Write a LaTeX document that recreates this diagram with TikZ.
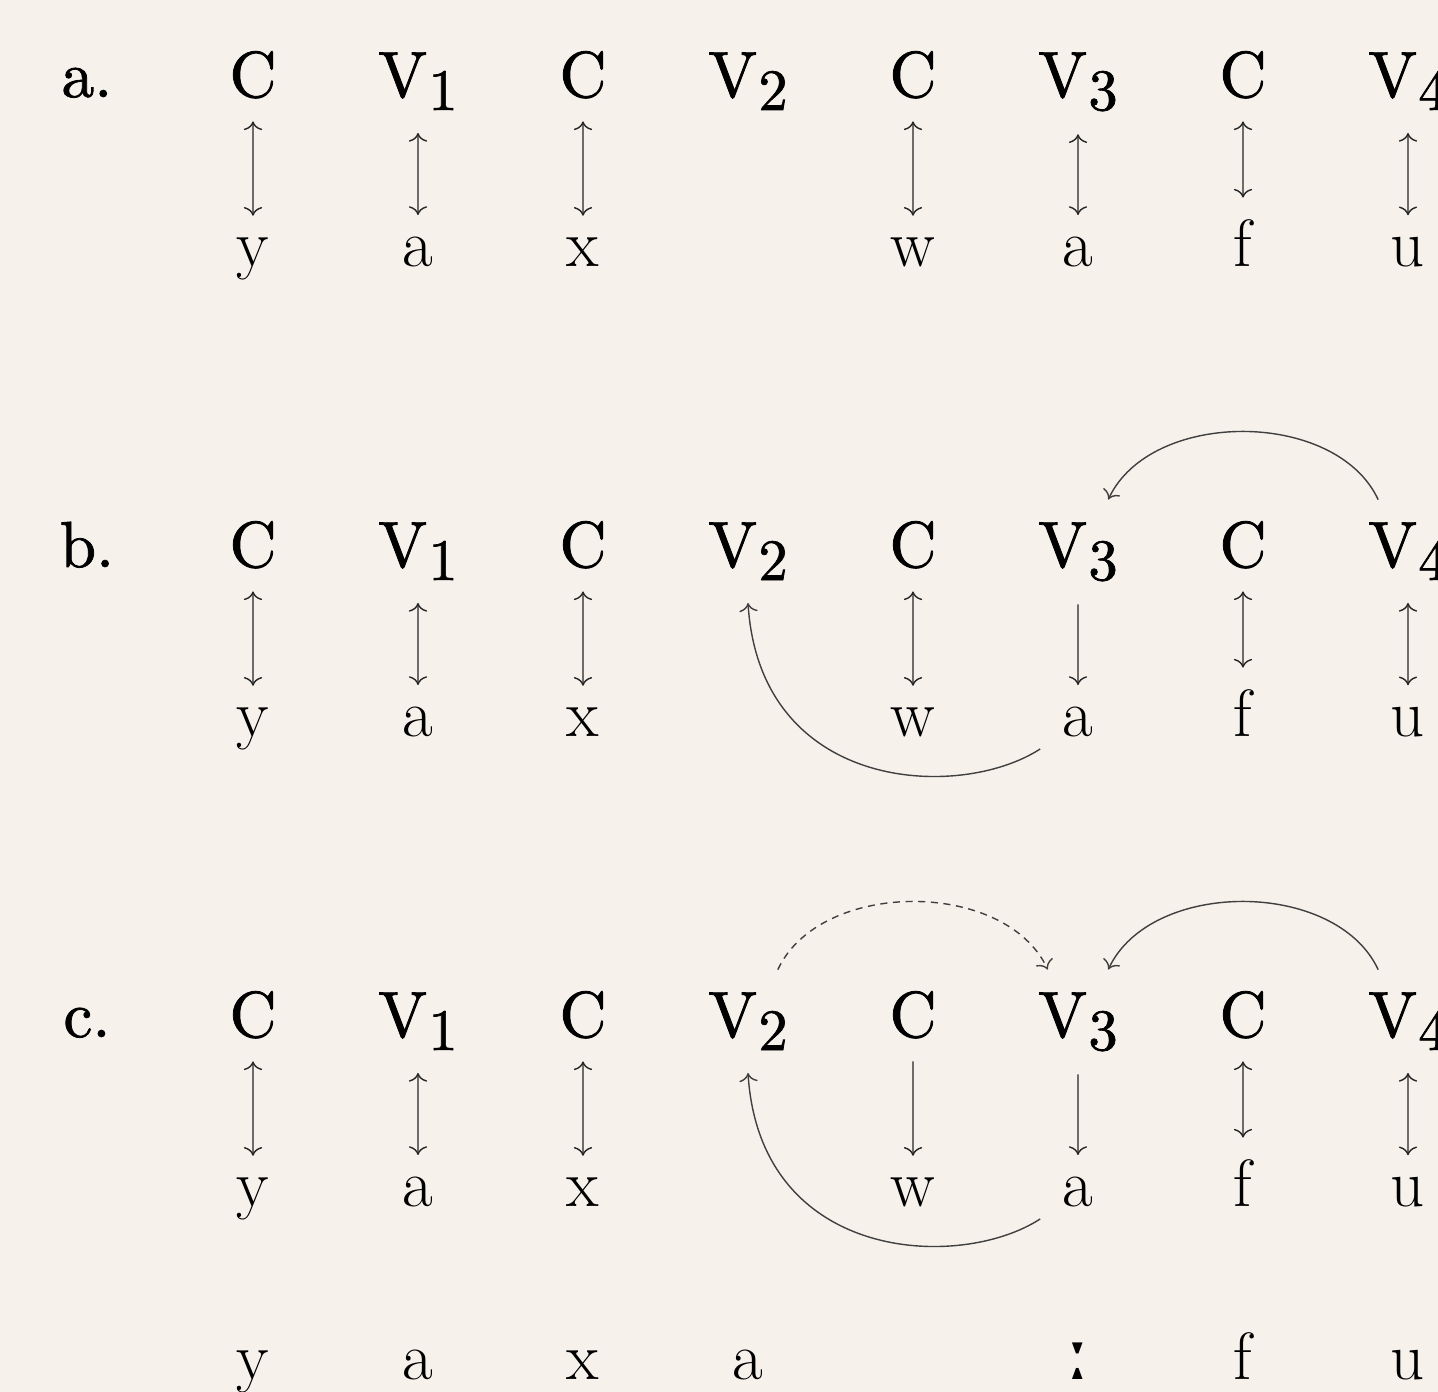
\documentclass[tikz,border=0pt]{standalone}
\usepackage{fontspec}
\newfontfamily\ipafont{DejaVu Serif}
\newfontface\segface{lmroman10-regular.otf}[FakeBold=1.2]
\usetikzlibrary{arrows.meta,positioning,calc}
\definecolor{paper}{HTML}{F6F1EB}
\newcommand{\Vsub}[1]{V\kern0.02em\raisebox{-2pt}{\fontsize{9}{11}\selectfont #1}}
\tikzset{
  tag/.style={font=\fontsize{10}{12}\segface, scale=1.85, transform shape, anchor=base},
  seg/.style={font=\fontsize{10}{12}\segface, scale=1.85, transform shape, anchor=base},
  phon/.style={font=\fontsize{19}{23}\selectfont, inner sep=6.2pt, anchor=base},
  lnk/.style={<->, draw=black!85, line width=0.4pt},
  assoc/.style={->, draw=black!85, line width=0.4pt},
  spread/.style={->, draw=black!75, line width=0.4pt},
  dspread/.style={->, draw=black!75, line width=0.4pt, dash pattern=on 2pt off 1.6pt},
}

\begin{document}
\begin{tikzpicture}[x=0.01cm, y=0.01cm]

\fill[paper] (0,0) rectangle (1438,-1392);
\useasboundingbox (0,0) rectangle (1438,-1392);

% three rows: skeleton tier above, melody tier below
\foreach \r/\yt in {a/-97, b/-567, c/-1037} {
  \node[tag] (\r-0) at (87,\yt) {\r.};
  \foreach \s [count=\i] in {C,\Vsub{1},C,\Vsub{2},C,\Vsub{3},C,\Vsub{4}}
    \node[seg] (\r-t\i) at ({253+165*(\i-1)},\yt) {\s};
  \foreach \p/\i in {y/1,a/2,x/3,w/5,a/6,f/7,u/8}
    \node[phon] (\r-l\i) at ({253+165*(\i-1)},\yt-170) {\p};
}

% surface form in c.
\foreach \p/\i in {y/1,a/2,x/3,a/4,{\ipafont\fontsize{24}{28}\selectfont ː}/6,f/7,u/8}
  \node[phon] (c-b\i) at ({253+165*(\i-1)},-1380) {\p};

% association lines
\foreach \i in {1,2,3,5,6,7,8} \draw[lnk] (a-t\i) -- (a-l\i);
\foreach \i in {1,2,3,5,7,8} \draw[lnk] (b-t\i) -- (b-l\i);
\draw[assoc] (b-t6) -- (b-l6);
\foreach \i in {1,2,3,7,8} \draw[lnk] (c-t\i) -- (c-l\i);
\draw[assoc] (c-t5) -- (c-l5);
\draw[assoc] (c-t6) -- (c-l6);

% spreading
\draw[spread] (b-t8.120) to[out=115, in=65, looseness=0.95] (b-t6.60);
\draw[spread] (b-l6.-145) .. controls +(-80,-52) and +(12,-190) .. (b-t4.south);
\draw[spread] (c-t8.120) to[out=115, in=65, looseness=0.95] (c-t6.60);
\draw[spread] (c-l6.-145) .. controls +(-80,-52) and +(12,-190) .. (c-t4.south);
\draw[dspread] (c-t4.60) to[out=65, in=115, looseness=0.95] (c-t6.120);

\end{tikzpicture}
\end{document}
